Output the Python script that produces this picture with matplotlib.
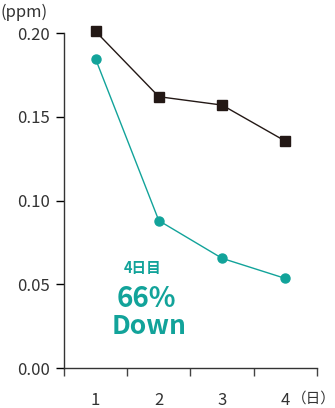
import matplotlib
matplotlib.use("Agg")
import matplotlib.pyplot as plt

plt.rcParams['font.family'] = ['Noto Sans CJK JP', 'DejaVu Sans']

days = [1, 2, 3, 4]
day_labels = ["1", "2", "3", "4"]
control = [0.201, 0.162, 0.157, 0.1355]
treated = [0.1845, 0.088, 0.0655, 0.0535]
yticks = [0.00, 0.05, 0.10, 0.15, 0.20]

teal = "#12a39a"
dark = "#231815"

fig = plt.figure(figsize=(3.35, 4.08), dpi=100)
ax = fig.add_axes([0.191, 0.098, 0.755, 0.821])

ax.plot(days, control, color=dark, lw=1.0, marker="s", ms=7, zorder=3, clip_on=False)
ax.plot(days, treated, color=teal, lw=1.0, marker="o", ms=6.5, zorder=3, clip_on=False)

ax.set_xlim(0.5, 4.5)
ax.set_ylim(0, 0.20)
ax.set_yticks(yticks)
ax.set_yticklabels(["%.2f" % v for v in yticks])
ax.set_xticks([0.5, 1.5, 2.5, 3.5, 4.5])
ax.set_xticklabels([])
ax.set_xticks(days, minor=True)
ax.set_xticklabels(day_labels, minor=True)
ax.tick_params(axis="x", which="major", direction="out", length=6, width=1, color="#444444")
ax.tick_params(axis="x", which="minor", length=0, pad=17, labelsize=12, labelcolor="#333333")
ax.tick_params(axis="y", direction="out", length=6, width=1, pad=4, labelsize=12, labelcolor="#333333")

for s in ["top", "right"]:
    ax.spines[s].set_visible(False)
for s in ["left", "bottom"]:
    ax.spines[s].set_linewidth(1.0)
    ax.spines[s].set_color("#333333")

fig.text(0.0, 0.97, "(ppm)", fontsize=12, color="#333333", ha="left", va="center")
fig.text(0.870, 0.022, "（日）", fontsize=10.5, color="#333333", ha="left", va="center")

ax.text(1.75, 0.060, "4日目", color=teal, fontsize=10.5, fontweight="bold", ha="center", va="center")
ax.text(1.8, 0.041, "66%", color=teal, fontsize=20, fontweight="bold", ha="center", va="center")
ax.text(1.85, 0.0245, "Down", color=teal, fontsize=19, fontweight="bold", ha="center", va="center")

fig.savefig("out.png", dpi=100)
